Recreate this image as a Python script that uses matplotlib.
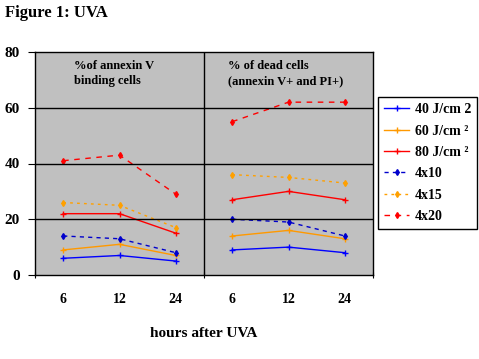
import matplotlib.pyplot as plt
import numpy as np

# Data
hours = ['6', '12', '24', '6', '12', '24']
series = ['40 J/cm 2', '60 J/cm \u00b2', '80 J/cm \u00b2', '4x10', '4x15', '4x20']
# panel 1: % of annexin V binding cells
annexin = {
    '40 J/cm 2': [6, 7, 5],
    '60 J/cm \u00b2': [9, 11, 7],
    '80 J/cm \u00b2': [22, 22, 15],
    '4x10': [14, 13, 8],
    '4x15': [26, 25, 17],
    '4x20': [41, 43, 29],
}
# panel 2: % of dead cells
dead = {
    '40 J/cm 2': [9, 10, 8],
    '60 J/cm \u00b2': [14, 16, 13],
    '80 J/cm \u00b2': [27, 30, 27],
    '4x10': [20, 19, 14],
    '4x15': [36, 35, 33],
    '4x20': [55, 62, 62],
}

colors = ['#0000ff', '#ff9900', '#ff0000', '#0000cc', '#ffa000', '#ff0000']
styles = ['-', '-', '-', (0, (3, 3)), (0, (2, 3)), (0, (4, 4))]
markers = ['+', '+', '+', 'd', 'd', 'd']

plt.rcParams['font.family'] = ['Liberation Serif', 'DejaVu Serif']
plt.rcParams['font.weight'] = 'bold'

fig = plt.figure(figsize=(4.79, 3.59), dpi=100)
ax = fig.add_axes([35 / 479, 1 - 275 / 359, 338 / 479, 223 / 359])
ax.set_facecolor('#c0c0c0')

x1 = np.arange(3)
x2 = np.arange(3, 6)
handles = []
for name, c, ls, m in zip(series, colors, styles, markers):
    ms = 5 if m == '+' else 3
    h, = ax.plot(x1, annexin[name], color=c, linestyle=ls, marker=m, markersize=ms,
                 linewidth=1, label=name)
    ax.plot(x2, dead[name], color=c, linestyle=ls, marker=m, markersize=ms, linewidth=1)
    handles.append(h)

ax.set_xlim(-0.5, 5.5)
ax.set_ylim(0, 80)
ax.set_yticks([0, 20, 40, 60, 80])
ax.set_yticklabels(['0', '20', '40', '60', '80'], fontsize=11, fontweight='bold')
for yv in [20, 40, 60]:
    ax.axhline(yv, color='black', linewidth=1)
ax.axvline(2.5, color='black', linewidth=1)

# group boundaries as major ticks, hour labels as minor ticks
ax.set_xticks([-0.5, 2.5, 5.5])
ax.set_xticklabels([])
ax.set_xticks(range(6), minor=True)
ax.set_xticklabels(hours, minor=True, fontsize=10, fontweight='bold')
ax.tick_params(axis='x', which='minor', length=0, pad=13)
ax.tick_params(axis='x', which='major', length=5, direction='inout')
ax.tick_params(axis='y', length=5, direction='out', pad=6)
for s in ax.spines.values():
    s.set_linewidth(1)

ax.set_xlabel('hours after UVA', fontsize=11, fontweight='bold', labelpad=15)

ax.text(0.2, 77, '%of annexin V\nbinding cells', fontsize=9, fontweight='bold',
        va='top', ha='left', linespacing=1.3)
ax.text(2.92, 77, '% of dead cells\n(annexin V+ and PI+)', fontsize=9, fontweight='bold',
        va='top', ha='left', linespacing=1.3)

fig.text(5 / 479, 1 - 13 / 359, 'Figure 1: UVA', fontsize=12, fontweight='bold', va='center')

leg = fig.legend(handles=handles, loc='upper left', bbox_to_anchor=(378 / 479, 1 - 97 / 359),
                 fancybox=False, edgecolor='black', framealpha=1, borderaxespad=0,
                 prop={'weight': 'bold', 'size': 10}, handlelength=1.8, handletextpad=0.4,
                 labelspacing=0.6, borderpad=0.45)
leg.get_frame().set_linewidth(1)

fig.savefig('out.png', dpi=100)
